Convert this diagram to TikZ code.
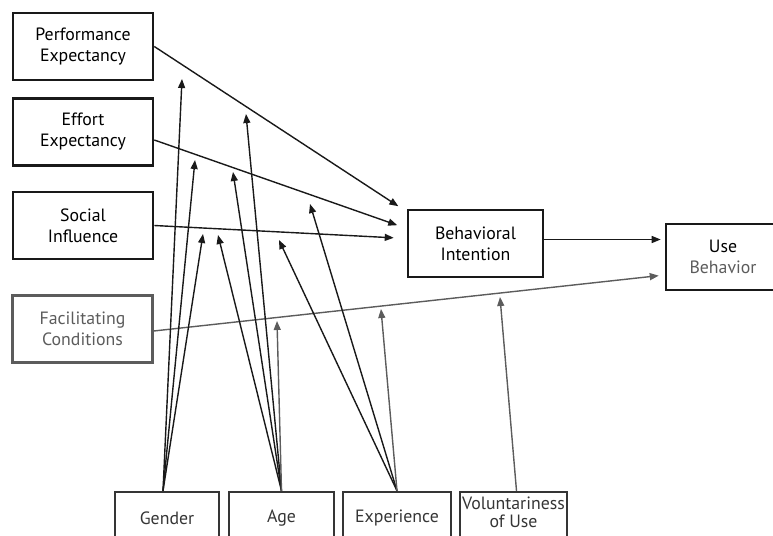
\documentclass[tikz,border=0pt]{standalone}
\usepackage{fontspec}
\setmainfont{PT Sans}
\usetikzlibrary{arrows.meta}
\definecolor{fcgray}{HTML}{5C5C5C}
\definecolor{modgray}{HTML}{353535}

\begin{document}
\begin{tikzpicture}[x=1pt, y=-1pt,
    box/.style={draw=black!90, line width=2.6pt, minimum width=140pt, minimum height=67pt,
      inner sep=1pt, align=center, font=\fontsize{17.8}{21}\selectfont},
    fcbox/.style={box, draw=fcgray, line width=2.2pt, text=fcgray},
    mbox/.style={box, draw=modgray, line width=2.4pt, text=modgray, minimum width=104pt, minimum height=52pt},
    arr/.style={-{Triangle[length=9pt,width=7pt]}, line width=1.4pt, draw=black!90},
    garr/.style={arr, draw=fcgray}]

    \useasboundingbox (0,0) rectangle (773,535);

    \node[box] (pe) at (83, 46.5) {Performance\\Expectancy};
    \node[box] (ee) at (83, 132) {Effort\\Expectancy};
    \node[box] (si) at (83, 225.5) {Social\\Influence};
    \node[fcbox] (fc) at (82.5, 329) {Facilitating\\Conditions};
    \node[box, minimum width=135pt] (bi) at (475.5, 243.5) {Behavioral\\Intention};
    \node[box, minimum width=114pt, minimum height=66pt] (ub) at (723, 257) {Use\\\textcolor{fcgray}{Behavior}};

    \node[mbox] (gender) at (167, 518) {Gender};
    \node[mbox, minimum width=105pt] (age) at (281.5, 518) {Age};
    \node[mbox, minimum width=108pt] (exp) at (397, 518) {Experience};
    \node[mbox, minimum width=107pt, text depth=12pt, font=\fontsize{17.8}{18}\selectfont] (vol) at (513.5, 518) {Voluntariness\\of Use};

    % tips of the moderating arrows
    \coordinate (g1) at (182, 79);
    \coordinate (g2) at (195, 160);
    \coordinate (g3) at (203, 234);
    \coordinate (a1) at (246, 114);
    \coordinate (a2) at (233, 172);
    \coordinate (a3) at (218, 235);
    \coordinate (a4) at (277, 321);
    \coordinate (e1) at (310, 204);
    \coordinate (e2) at (279, 240);
    \coordinate (e3) at (381, 309);
    \coordinate (v1) at (500, 297);

    \draw [arr, shorten >=10pt] (pe.east) to ([yshift=-3pt]bi.north west);
    \draw [arr, shorten >=10pt] ([yshift=-8pt]ee.east) to ([yshift=15pt]bi.west);
    \draw [arr, shorten >=13pt] (si.east) to ([yshift=5pt]bi.west);
    \draw [arr, shorten >=4pt] ([yshift=4pt]bi.east) to ([yshift=4pt]bi.east -| ub.west);
    \draw [garr, shorten >=6pt] ([yshift=-2pt]fc.east) to ([yshift=-18pt]ub.west);

    \draw [arr] ([xshift=-4pt]gender.north) to (g1);
    \draw [arr] ([xshift=-4pt]gender.north) to (g2);
    \draw [arr] ([xshift=-4pt]gender.north) to (g3);
    \draw [arr] (age.north) to (a1);
    \draw [arr] (age.north) to (a2);
    \draw [arr] (age.north) to (a3);
    \draw [garr] (age.north) to (a4);
    \draw [arr] (exp.north) to (e1);
    \draw [arr] (exp.north) to (e2);
    \draw [garr] (exp.north) to (e3);
    \draw [garr] ([xshift=3pt]vol.north) to (v1);

\end{tikzpicture}
\end{document}
